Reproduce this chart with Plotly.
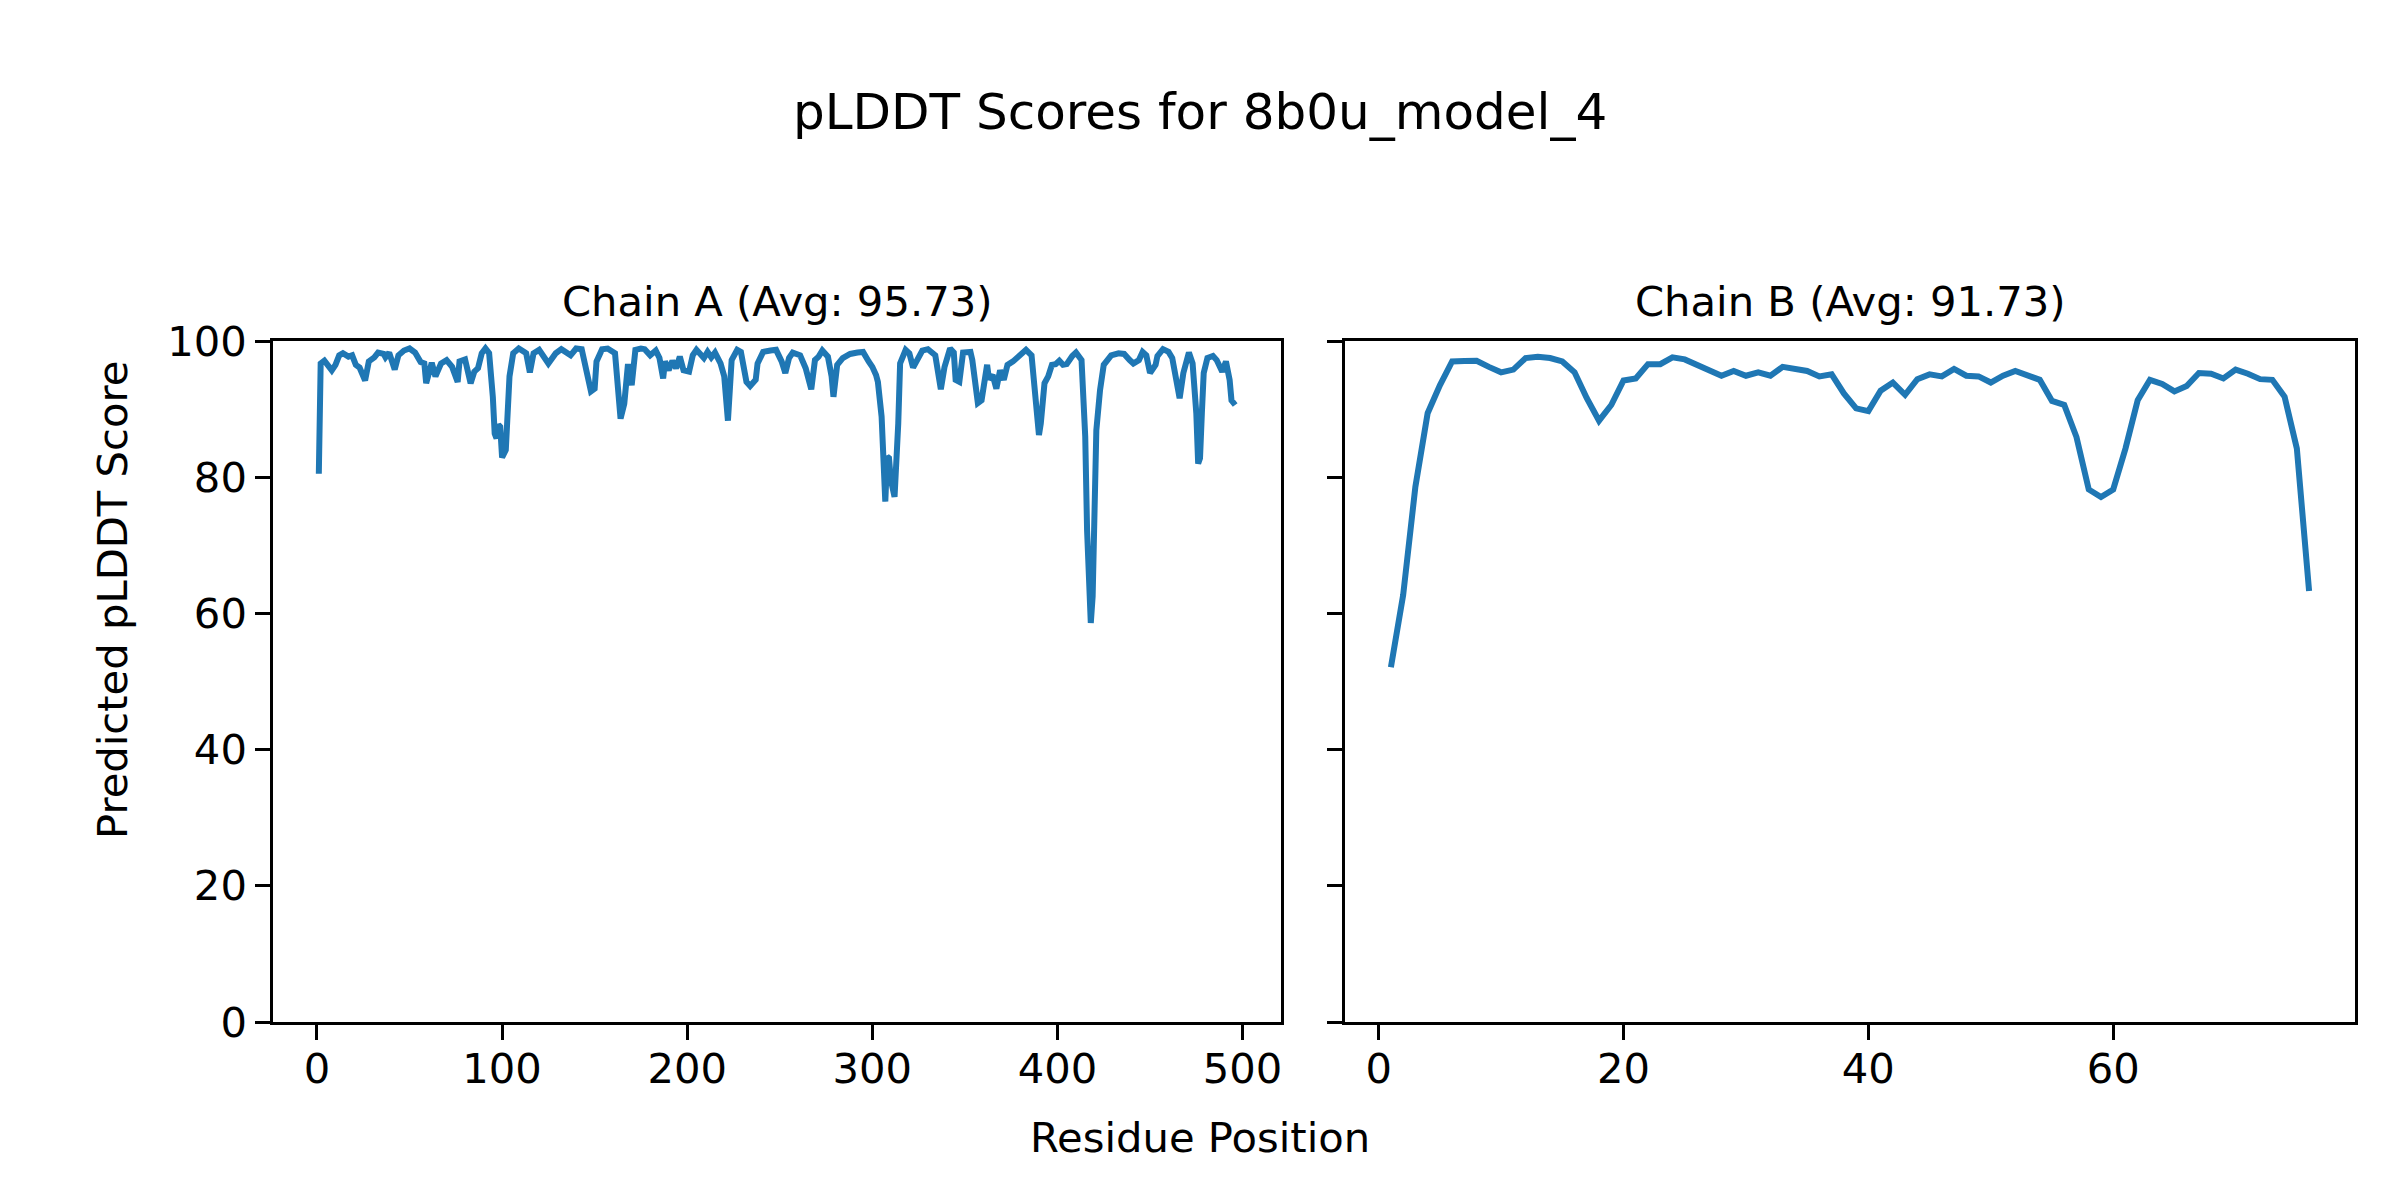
import plotly.graph_objects as go

# ---- data ----
chain_a_res = [1, 2, 4, 8, 10, 12, 14, 17, 19, 21, 23, 26, 28, 31, 33, 36, 37, 39, 42, 44,
               47, 50, 53, 56, 58, 59, 62, 64, 67, 70, 73, 76, 77, 80, 83, 85, 87, 89, 91, 93,
               95, 96, 97, 98, 99, 100, 102, 104, 106, 109, 112, 113, 115, 117, 120, 125, 129, 132, 137, 140,
               143, 146, 148, 150, 151, 154, 157, 161, 163, 164, 166, 168, 170, 172, 175, 177, 180, 183, 185, 187,
               188, 190, 192, 194, 196, 198, 201, 203, 205, 209, 211, 213, 215, 218, 220, 222, 224, 227, 229, 232,
               234, 237, 238, 241, 245, 248, 251, 253, 255, 257, 261, 264, 267, 269, 271, 273, 276, 278, 279, 281,
               284, 288, 292, 295, 298, 300, 302, 303, 305, 306, 307, 308, 309, 310, 312, 314, 315, 318, 320, 322,
               324, 327, 330, 334, 337, 339, 342, 344, 345, 347, 349, 353, 354, 357, 359, 361, 362, 363, 365, 367,
               369, 371, 373, 376, 379, 381, 383, 386, 387, 389, 390, 391, 393, 395, 397, 399, 401, 403, 405, 408,
               410, 413, 414, 415, 416, 417, 418, 419, 420, 421, 423, 425, 427, 429, 433, 436, 439, 441, 444, 446,
               448, 450, 453, 454, 457, 460, 462, 464, 466, 468, 470, 471, 473, 475, 476, 477, 478, 479, 481, 484,
               486, 489, 491, 493, 494, 496]
chain_a_plddt = [80.5, 96.7, 97.1, 95.7, 96.5, 97.9, 98.2, 97.7, 97.9, 96.5, 96.1, 94.2, 97.0, 97.6, 98.3, 98.1, 97.6, 98.3, 95.8, 97.9,
                 98.6, 98.9, 98.3, 96.9, 96.7, 93.8, 96.8, 94.8, 96.7, 97.2, 96.2, 94.0, 97.0, 97.3, 93.8, 95.5, 96.0, 98.2, 98.9, 98.2,
                 91.8, 86.4, 85.7, 87.7, 87.4, 82.9, 84.0, 94.8, 98.2, 98.9, 98.4, 98.2, 95.4, 98.2, 98.7, 96.7, 98.2, 98.8, 97.9, 98.9,
                 98.8, 95.5, 92.6, 93.0, 97.0, 98.8, 98.9, 98.2, 90.8, 88.6, 90.8, 96.6, 93.5, 98.7, 98.9, 98.8, 97.9, 98.6, 97.5, 94.5,
                 97.0, 95.7, 97.1, 96.0, 97.7, 95.7, 95.5, 97.9, 98.7, 97.5, 98.4, 97.6, 98.3, 96.7, 94.8, 88.3, 97.2, 98.7, 98.4, 94.0,
                 93.4, 94.3, 96.7, 98.4, 98.6, 98.7, 97.0, 95.3, 97.5, 98.3, 97.9, 96.0, 92.9, 97.2, 97.7, 98.6, 97.7, 94.8, 91.8, 96.5,
                 97.5, 98.1, 98.3, 98.4, 97.0, 96.2, 95.0, 94.0, 88.9, 83.0, 76.4, 83.0, 82.8, 79.6, 77.1, 87.9, 96.7, 98.7, 98.2, 96.1,
                 97.0, 98.6, 98.8, 97.9, 92.9, 96.2, 98.9, 98.3, 94.3, 94.0, 98.3, 98.4, 97.2, 90.9, 91.3, 94.5, 96.5, 94.4, 95.0, 93.0,
                 95.7, 94.3, 96.5, 97.0, 97.7, 98.1, 98.7, 97.9, 94.8, 90.4, 86.2, 87.9, 93.8, 94.8, 96.5, 96.6, 97.1, 96.5, 96.6, 97.8,
                 98.3, 97.2, 92.8, 86.0, 72.2, 62.5, 58.6, 62.5, 77.1, 86.9, 92.8, 96.5, 97.2, 97.9, 98.2, 98.1, 97.2, 96.7, 97.2, 98.4,
                 97.9, 95.3, 96.5, 97.8, 98.8, 98.4, 97.5, 94.3, 91.6, 95.3, 97.8, 98.3, 96.7, 89.4, 82.0, 82.8, 89.4, 95.3, 97.5, 97.8,
                 97.2, 95.5, 97.0, 94.3, 91.3, 90.6]

chain_b_res = list(range(1, 77))
chain_b_plddt = [52.1, 62.7, 78.6, 89.4, 93.5, 97.0, 97.05, 97.1, 96.2, 95.4,
                 95.8, 97.5, 97.7, 97.5, 97.0, 95.4, 91.6, 88.3, 90.6, 94.2,
                 94.5, 96.6, 96.6, 97.6, 97.3, 96.5, 95.6, 94.9, 95.6, 94.9,
                 95.4, 94.9, 96.2, 95.9, 95.6, 94.8, 95.1, 92.3, 90.1, 89.7,
                 92.7, 93.9, 92.1, 94.4, 95.1, 94.8, 95.9, 94.9, 94.8, 93.9,
                 94.9, 95.6, 95.0, 94.3, 91.2, 90.6, 85.9, 78.2, 77.1, 78.2,
                 84.2, 91.3, 94.3, 93.7, 92.6, 93.4, 95.3, 95.2, 94.5, 95.8,
                 95.2, 94.4, 94.3, 91.8, 84.2, 63.3]

chain_names = ["Chain A", "Chain B"]
chain_avgs = [95.73, 91.73]
main_title = "pLDDT Scores for 8b0u_model_4"
x_label = "Residue Position"
y_label = "Predicted pLDDT Score"
y_ticks = [0, 20, 40, 60, 80, 100]
xa_ticks = [0, 100, 200, 300, 400, 500]
xb_ticks = [0, 20, 40, 60]

# ---- styling ----
W, H = 2400, 1200
OFF = 8  # page body margin
FONT = "DejaVu Sans"
TICK_PX = 41.7
LINE_C = "#1f77b4"
AX_W = 3.3

def px_x(p):
    return (p - OFF) / W

def px_y(p):
    return 1 - (p - OFF) / H

top, bottom = 341, 1022
a_left, a_right = 273, 1281
b_left, b_right = 1345, 2355

fig = go.Figure()
fig.add_trace(go.Scatter(x=chain_a_res, y=chain_a_plddt, mode="lines",
                         line=dict(color=LINE_C, width=6), xaxis="x", yaxis="y",
                         showlegend=False, hoverinfo="x+y"))
fig.add_trace(go.Scatter(x=chain_b_res, y=chain_b_plddt, mode="lines",
                         line=dict(color=LINE_C, width=6), xaxis="x2", yaxis="y2",
                         showlegend=False, hoverinfo="x+y"))

def xrange(vals):
    span = max(vals) - min(vals)
    return [min(vals) - 0.05 * span, max(vals) + 0.05 * span]

common_axis = dict(showline=True, linecolor="black", linewidth=AX_W, mirror=True,
                   ticks="outside", ticklen=14.6, tickwidth=AX_W, tickcolor="black",
                   showgrid=False, zeroline=False, automargin=False,
                   tickfont=dict(family=FONT, size=TICK_PX, color="black"))

fig.update_layout(
    width=W, height=H,
    margin=dict(l=0, r=0, t=0, b=0, autoexpand=False),
    paper_bgcolor="white", plot_bgcolor="white",
    font=dict(family=FONT, color="black"),
    xaxis=dict(domain=[px_x(a_left), px_x(a_right)], range=xrange(chain_a_res),
               tickvals=xa_ticks, anchor="y", ticklabelstandoff=-7, **common_axis),
    yaxis=dict(domain=[px_y(bottom), px_y(top)], range=[0, 100], tickvals=y_ticks,
               anchor="x", ticklabelstandoff=0, **common_axis),
    xaxis2=dict(domain=[px_x(b_left), px_x(b_right)], range=xrange(chain_b_res),
                tickvals=xb_ticks, anchor="y2", ticklabelstandoff=-7, **common_axis),
    yaxis2=dict(domain=[px_y(bottom), px_y(top)], range=[0, 100], tickvals=y_ticks,
                anchor="x2", showticklabels=False, matches="y", **common_axis),
)

annotations = [
    dict(text=main_title, x=px_x(1200), y=px_y(112), xref="paper", yref="paper",
         xanchor="center", yanchor="middle", showarrow=False,
         font=dict(family=FONT, size=50, color="black")),
    dict(text=f"{chain_names[0]} (Avg: {chain_avgs[0]:.2f})", x=px_x((a_left + a_right) / 2),
         y=px_y(301), xref="paper", yref="paper", xanchor="center", yanchor="middle",
         showarrow=False, font=dict(family=FONT, size=TICK_PX, color="black")),
    dict(text=f"{chain_names[1]} (Avg: {chain_avgs[1]:.2f})", x=px_x((b_left + b_right) / 2),
         y=px_y(301), xref="paper", yref="paper", xanchor="center", yanchor="middle",
         showarrow=False, font=dict(family=FONT, size=TICK_PX, color="black")),
    dict(text=x_label, x=px_x(1200), y=px_y(1137), xref="paper", yref="paper",
         xanchor="center", yanchor="middle", showarrow=False,
         font=dict(family=FONT, size=TICK_PX, color="black")),
    dict(text=y_label, x=px_x(112), y=px_y(600), xref="paper", yref="paper", textangle=-90,
         xanchor="center", yanchor="middle", showarrow=False,
         font=dict(family=FONT, size=TICK_PX, color="black")),
]
fig.update_layout(annotations=annotations)

fig.write_html("out.html")
